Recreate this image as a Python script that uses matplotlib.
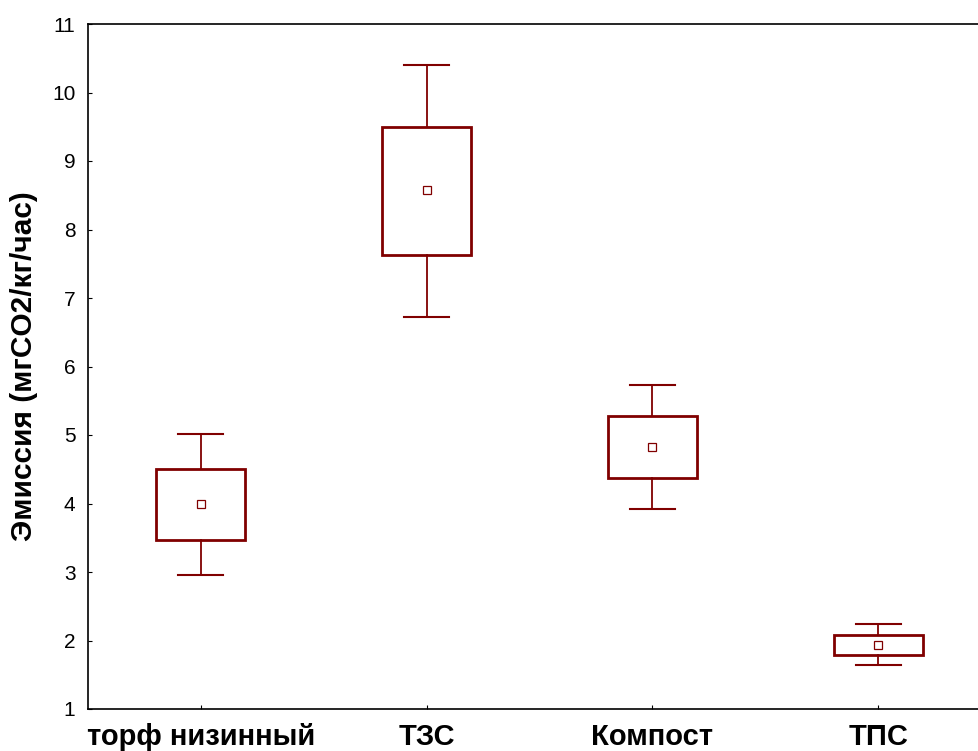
import matplotlib
matplotlib.use("Agg")
import matplotlib.pyplot as plt

plt.rcParams['font.family'] = ['Liberation Sans', 'DejaVu Sans']

categories = ['торф низинный', 'ТЗС', 'Компост', 'ТПС']
means = [4.00, 8.57, 4.82, 1.94]
box_lo = [3.47, 7.63, 4.37, 1.79]
box_hi = [4.50, 9.50, 5.28, 2.08]
whisk_lo = [2.96, 6.72, 3.92, 1.64]
whisk_hi = [5.01, 10.40, 5.73, 2.24]

col = '#800000'
fig = plt.figure(figsize=(9.79, 7.51), dpi=100)
ax = fig.add_axes([88 / 979, (751 - 709) / 751, (991 - 88) / 979, (709 - 24) / 751])

bw = 0.395
cw = 0.2
for i in range(len(categories)):
    ax.add_patch(plt.Rectangle((i - bw / 2, box_lo[i]), bw, box_hi[i] - box_lo[i],
                               fill=False, edgecolor=col, lw=2.0, zorder=3))
    ax.plot([i, i], [box_hi[i], whisk_hi[i]], color=col, lw=1.3)
    ax.plot([i, i], [whisk_lo[i], box_lo[i]], color=col, lw=1.3)
    ax.plot([i - cw / 2, i + cw / 2], [whisk_hi[i]] * 2, color=col, lw=1.5)
    ax.plot([i - cw / 2, i + cw / 2], [whisk_lo[i]] * 2, color=col, lw=1.5)
    ax.plot(i, means[i], 's', ms=5.5, mfc='white', mec=col, mew=0.9, zorder=4)

ax.set_xlim(-0.5, 3.5)
ax.set_ylim(1, 11)
ax.set_yticks(range(1, 12))
ax.set_xticks(range(len(categories)))
ax.set_xticklabels(categories, fontsize=21, fontweight='bold')
ax.tick_params(axis='y', direction='in', length=3, labelsize=15, pad=9)
ax.tick_params(axis='x', direction='in', length=3, pad=10)
ax.set_ylabel('Эмиссия (мгCO2/кг/час)', fontsize=21.5, fontweight='bold', labelpad=10)
for s in ax.spines.values():
    s.set_linewidth(1.2)

fig.savefig('out.png', dpi=100)
